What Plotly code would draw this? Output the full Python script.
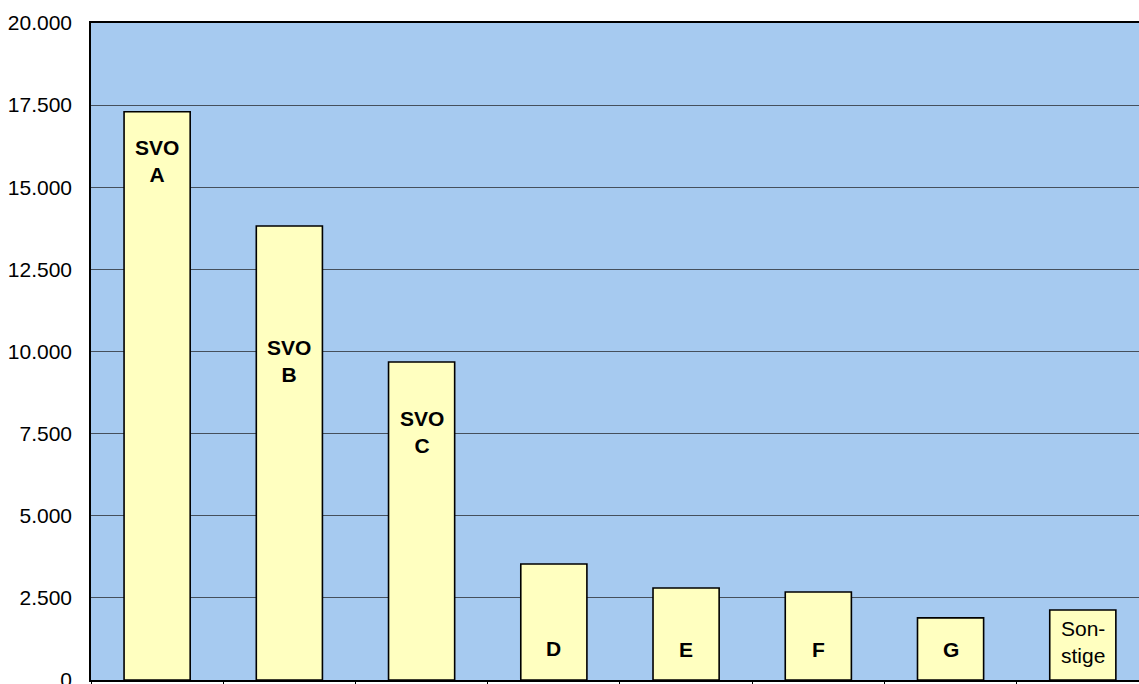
import plotly.graph_objects as go

categories = ["SVO A", "SVO B", "SVO C", "D", "E", "F", "G", "Sonstige"]
values = [17300, 13820, 9680, 3530, 2800, 2680, 1890, 2130]
bar_labels = ["SVO<br>A", "SVO<br>B", "SVO<br>C", "D", "E", "F", "G", "Son-<br>stige"]
label_bold = [True, True, True, True, True, True, True, False]
label_y = [15800, 9700, 7550, 970, 930, 930, 920, 1160]
y_ticks = [0, 2500, 5000, 7500, 10000, 12500, 15000, 17500, 20000]

fig = go.Figure()
fig.add_trace(go.Bar(
    x=categories, y=values, width=0.5,
    marker=dict(color="#FFFFC0", line=dict(color="#000000", width=1.6)),
    hoverinfo="skip", showlegend=False,
))

for c, lab, b, ly in zip(categories, bar_labels, label_bold, label_y):
    fig.add_annotation(
        x=c, y=ly, xref="x", yref="y", showarrow=False,
        text=f"<b>{lab}</b>" if b else lab,
        font=dict(family="Liberation Sans, Arial", size=21, color="#000000"),
        xanchor="center", yanchor="middle",
    )

fig.update_layout(
    width=1139, height=684,
    margin=dict(l=91, r=0, t=23, b=4, autoexpand=False),
    paper_bgcolor="#FFFFFF", plot_bgcolor="#A6CAF0",
    separators=",.",
    bargap=0.5,
    font=dict(family="Liberation Sans, Arial", size=21, color="#000000"),
)
fig.update_xaxes(
    range=[-0.5, 7.425], showticklabels=False, automargin=False,
    tickson="boundaries", ticks="outside", ticklen=5, tickcolor="#000000",
    showline=True, linecolor="#000000", linewidth=1.5, mirror=True,
    showgrid=False, zeroline=False,
)
fig.update_yaxes(
    range=[0, 20000], tickvals=y_ticks, tickformat=",d", automargin=False,
    showline=True, linecolor="#000000", linewidth=1.5,
    showgrid=True, gridcolor="#45505C", gridwidth=1,
    zeroline=False, ticks="", ticklabelstandoff=13,
    ticklabeloverflow="allow",
    tickfont=dict(family="Liberation Sans, Arial", size=21, color="#000000"),
)

fig.write_html("out.html")
